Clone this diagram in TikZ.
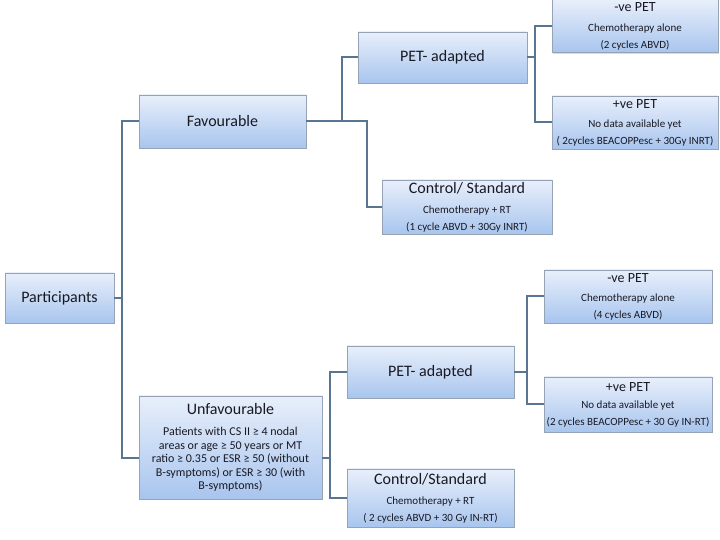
\documentclass[tikz,border=0pt]{standalone}
\usepackage{fontspec}
\setmainfont{Carlito}
\usetikzlibrary{shadows}
\definecolor{boxtop}{RGB}{232,239,251}
\definecolor{boxbot}{RGB}{168,197,238}
\definecolor{boxline}{RGB}{150,163,180}
\definecolor{connc}{RGB}{88,118,145}
\definecolor{txt}{RGB}{25,25,35}
\newcommand\ttlA{\fontsize{16}{19}\selectfont}
\newcommand\ttlB{\fontsize{14}{17}\selectfont}
\begin{document}
\begin{tikzpicture}[x=1pt,y=1pt,
 box/.style={draw=boxline, line width=0.8pt, top color=boxtop, bottom color=boxbot,
   drop shadow={opacity=0.3, shadow xshift=1pt, shadow yshift=-1.5pt},
   inner sep=0pt, align=center, text=txt, font=\fontsize{11}{17}\selectfont},
 big/.style={font=\fontsize{16}{19}\selectfont},
 conn/.style={draw=connc, line width=2pt}
]
\useasboundingbox (0,0) rectangle (720,540);

\node[box, big, minimum width=109pt, minimum height=50pt] (part) at (59.5,242) {Participants};
\node[box, big, minimum width=167pt, minimum height=53pt] (fav) at (222.5,418.5) {Favourable};
\node[box, font=\fontsize{12}{13.5}\selectfont, minimum width=183pt, minimum height=103pt] (unfav) at (230.5,92.5)
 {\ttlA Unfavourable\\[8pt]Patients with CS II ≥ 4 nodal\\areas or age ≥ 50 years or MT\\ratio ≥ 0.35 or ESR ≥ 50 (without\\B-symptoms) or ESR ≥ 30 (with\\B-symptoms)};
\node[box, big, minimum width=169pt, minimum height=51pt] (petA) at (442.5,482.5) {PET- adapted};
\node[box, minimum width=170pt, minimum height=54pt] (ctrlA) at (467,333)
 {\ttlA Control/ Standard\\[3pt]Chemotherapy + RT\\(1 cycle ABVD + 30Gy INRT)};
\node[box, minimum width=166pt, minimum height=53pt] (negA) at (635,514)
 {\ttlB -ve PET\\[3pt]Chemotherapy alone\\(2 cycles ABVD)};
\node[box, minimum width=166pt, minimum height=53pt] (posA) at (635,417.5)
 {\ttlB +ve PET\\[2pt]No data available yet\\( 2cycles BEACOPPesc + 30Gy INRT)};
\node[box, big, minimum width=167pt, minimum height=52pt] (petB) at (430.5,168) {PET- adapted};
\node[box, minimum width=167pt, minimum height=58pt] (ctrlB) at (430.5,42)
 {\ttlA Control/Standard\\[3pt]Chemotherapy + RT\\( 2 cycles ABVD + 30 Gy IN-RT)};
\node[box, minimum width=168pt, minimum height=53pt] (negB) at (628,243.5)
 {\ttlB -ve PET\\[2pt]Chemotherapy alone\\(4 cycles ABVD)};
\node[box, minimum width=168pt, minimum height=55pt] (posB) at (628,135.5)
 {\ttlB +ve PET\\[0pt]No data available yet\\(2 cycles BEACOPPesc + 30 Gy IN-RT)};

\coordinate (tr) at (122,242);
\coordinate (uL) at ([yshift=-10.5pt]unfav.west);
\coordinate (uR) at ([yshift=-10.5pt]unfav.east);
\coordinate (fa) at (342,418.5);
\coordinate (fb) at (367,418.5);
\coordinate (pa) at (535,482.5);
\coordinate (ua) at (330,82);
\coordinate (pb) at (527,168);

\draw[conn] (part.east) -- (tr);
\draw[conn] (fav.west) -| (tr) |- (uL);
\draw[conn] (fav.east) -- (fb) |- (ctrlA.west);
\draw[conn] (fa) |- (petA.west);
\draw[conn] (petA.east) -- (pa);
\draw[conn] (negA.west) -| (pa) |- (posA.west);
\draw[conn] (uR) -- (ua);
\draw[conn] (petB.west) -| (ua) |- (ctrlB.west);
\draw[conn] (petB.east) -- (pb);
\draw[conn] (negB.west) -| (pb) |- (posB.west);
\end{tikzpicture}
\end{document}
